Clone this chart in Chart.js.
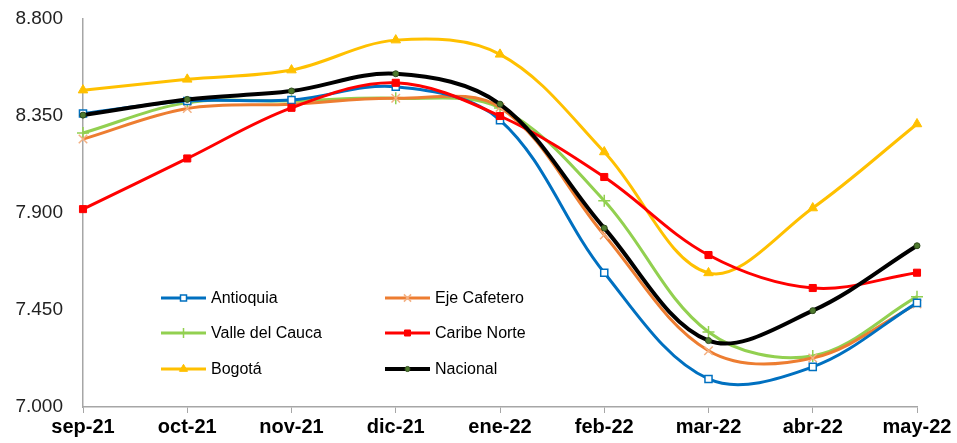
<!DOCTYPE html>
<html>
<head>
<meta charset="utf-8">
<script src="https://cdn.jsdelivr.net/npm/chart.js@4"></script>
<style>
html,body{margin:0;padding:0;background:#fff;}
#wrap{position:relative;width:957px;height:443px;}
</style>
</head>
<body>
<div id="wrap"><canvas id="c" width="957" height="443"></canvas></div>
<script>
const categories = ['sep-21','oct-21','nov-21','dic-21','ene-22','feb-22','mar-22','abr-22','may-22'];
const antioquia   = [8362, 8420, 8424, 8486, 8331, 7623, 7130, 7186, 7483];
const ejeCafetero = [8243, 8385, 8405, 8432, 8390, 7798, 7261, 7227, 7478];
const valle       = [8271, 8412, 8420, 8432, 8387, 7957, 7348, 7237, 7512];
const caribe      = [7918, 8153, 8388, 8504, 8350, 8067, 7705, 7552, 7623];
const bogota      = [8470, 8520, 8563, 8702, 8636, 8183, 7622, 7923, 8313];
const nacional    = [8354, 8427, 8466, 8546, 8405, 7830, 7308, 7447, 7748];
const yTicks = [7000, 7450, 7900, 8350, 8800];

function fmt(v){
  const s = String(Math.round(v));
  return s.length > 3 ? s.slice(0, s.length-3) + '.' + s.slice(s.length-3) : s;
}

const FONT = "'Liberation Sans', Arial, sans-serif";

const datasets = [
  {label:'Antioquia', data:antioquia, borderColor:'#0070C0', borderWidth:3,
   pointStyle:'rect', pointRadius:5, pointBackgroundColor:'#FFFFFF', pointBorderColor:'#0070C0', pointBorderWidth:1.5, order:2},
  {label:'Eje Cafetero', data:ejeCafetero, borderColor:'#ED7D31', borderWidth:3,
   pointStyle:'crossRot', pointRadius:6, pointBackgroundColor:'#F4B183', pointBorderColor:'#F4B183', pointBorderWidth:1.5, order:3},
  {label:'Valle del Cauca', data:valle, borderColor:'#92D050', borderWidth:3,
   pointStyle:'cross', pointRadius:6, pointBackgroundColor:'#92D050', pointBorderColor:'#92D050', pointBorderWidth:1.5, order:4},
  {label:'Caribe Norte', data:caribe, borderColor:'#FF0000', borderWidth:3,
   pointStyle:'rect', pointRadius:5, pointBackgroundColor:'#FF0000', pointBorderColor:'#FF0000', pointBorderWidth:1, order:1},
  {label:'Bogotá', data:bogota, borderColor:'#FFC000', borderWidth:3,
   pointStyle:'triangle', pointRadius:5.5, pointBackgroundColor:'#FFC000', pointBorderColor:'#FFC000', pointBorderWidth:1, order:5},
  {label:'Nacional', data:nacional, borderColor:'#000000', borderWidth:4,
   pointStyle:'circle', pointRadius:3, pointBackgroundColor:'#4E7A2E', pointBorderColor:'#2F4A1C', pointBorderWidth:1, order:0}
];
datasets.forEach(d => { d.tension = 0.35; d.fill = false; d.pointHoverRadius = d.pointRadius; });

const legendLayout = [
  {i:0, x:161, y:298}, {i:1, x:385, y:298},
  {i:2, x:161, y:333}, {i:3, x:385, y:333},
  {i:4, x:161, y:369}, {i:5, x:385, y:369}
];

const legendPlugin = {
  id:'customLegend',
  afterDraw(chart){
    const ctx = chart.ctx;
    ctx.save();
    legendLayout.forEach(L => {
      const ds = chart.data.datasets[L.i];
      const len = 45;
      ctx.strokeStyle = ds.borderColor;
      ctx.lineWidth = ds.borderWidth;
      ctx.lineCap = 'butt';
      ctx.beginPath();
      ctx.moveTo(L.x, L.y);
      ctx.lineTo(L.x + len, L.y);
      ctx.stroke();
      ctx.fillStyle = ds.pointBackgroundColor;
      ctx.strokeStyle = ds.pointBorderColor;
      ctx.lineWidth = ds.pointBorderWidth;
      const opts = {pointStyle: ds.pointStyle, radius: ds.pointRadius * 0.85, rotation:0, borderWidth: ds.pointBorderWidth};
      Chart.helpers.drawPoint(ctx, opts, L.x + len/2, L.y);
      ctx.fillStyle = '#000000';
      ctx.font = '16px ' + FONT;
      ctx.textBaseline = 'middle';
      ctx.textAlign = 'left';
      ctx.fillText(ds.label, L.x + len + 5, L.y + 1);
    });
    ctx.restore();
  }
};

new Chart(document.getElementById('c'), {
  type:'line',
  data:{labels:categories, datasets:datasets},
  options:{
    responsive:false,
    animation:false,
    layout:{padding:{left:0, right:40, top:19, bottom:0}},
    plugins:{legend:{display:false}, tooltip:{enabled:false}},
    scales:{
      x:{
        offset:false,
        grid:{display:true, drawOnChartArea:false, drawTicks:true, tickLength:6, color:'#A6A6A6', lineWidth:1},
        border:{display:true, color:'#A6A6A6', width:1.5},
        ticks:{color:'#000000', font:{family:FONT, size:20, weight:'bold', lineHeight:1.2}, padding:2, maxRotation:0, autoSkip:false},
        afterFit(s){ s.height = 36; }
      },
      y:{
        min:7000, max:8800,
        afterBuildTicks(s){ s.ticks = yTicks.map(v => ({value:v})); },
        grid:{display:false, drawTicks:false},
        border:{display:true, color:'#A6A6A6', width:1.5},
        ticks:{color:'#222222', font:{family:FONT, size:19}, padding:20, callback:(v)=>fmt(v)},
        afterFit(s){ s.width = 83; s.paddingTop = 0; s.paddingBottom = 0; }
      }
    }
  },
  plugins:[legendPlugin]
});
</script>
</body>
</html>
